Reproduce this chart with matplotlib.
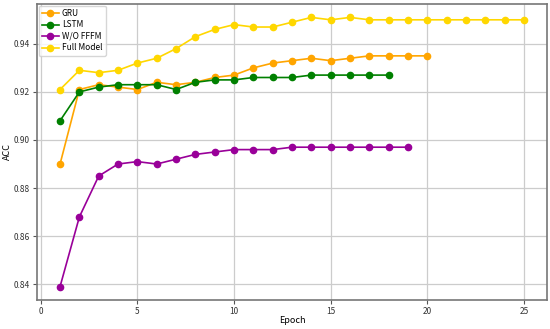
import matplotlib
matplotlib.use("Agg")
import matplotlib.pyplot as plt

plt.rcParams["font.family"] = ["Noto Sans CJK SC", "DejaVu Sans"]

gru_epochs = list(range(1, 21))
gru_acc = [0.890, 0.921, 0.923, 0.922, 0.921, 0.924, 0.923, 0.924, 0.926, 0.927,
           0.930, 0.932, 0.933, 0.934, 0.933, 0.934, 0.935, 0.935, 0.935, 0.935]
lstm_epochs = list(range(1, 19))
lstm_acc = [0.908, 0.920, 0.922, 0.923, 0.923, 0.923, 0.921, 0.924, 0.925, 0.925,
            0.926, 0.926, 0.926, 0.927, 0.927, 0.927, 0.927, 0.927]
wo_epochs = list(range(1, 20))
wo_acc = [0.839, 0.868, 0.885, 0.890, 0.891, 0.890, 0.892, 0.894, 0.895, 0.896,
          0.896, 0.896, 0.897, 0.897, 0.897, 0.897, 0.897, 0.897, 0.897]
full_epochs = list(range(1, 26))
full_acc = [0.921, 0.929, 0.928, 0.929, 0.932, 0.934, 0.938, 0.943, 0.946, 0.948,
            0.947, 0.947, 0.949, 0.951, 0.950, 0.951, 0.950, 0.950, 0.950, 0.950,
            0.950, 0.950, 0.950, 0.950, 0.950]

fig = plt.figure(figsize=(5.5, 3.29), dpi=100)
ax = fig.add_axes([0.067, 0.088, 0.928, 0.9])

ax.plot(gru_epochs, gru_acc, marker="o", ms=4.5, lw=1.2, color="#FFA500", label="GRU")
ax.plot(lstm_epochs, lstm_acc, marker="o", ms=4.5, lw=1.2, color="#008000", label="LSTM")
ax.plot(wo_epochs, wo_acc, marker="o", ms=4.5, lw=1.2, color="#990099", label="W/O FFFM")
ax.plot(full_epochs, full_acc, marker="o", ms=4.5, lw=1.2, color="#FFD700", label="Full Model")

ax.set_xticks([0, 5, 10, 15, 20, 25])
ax.set_yticks([0.84, 0.86, 0.88, 0.90, 0.92, 0.94])
ax.tick_params(labelsize=6, length=3, pad=2, color="#555555", labelcolor="#333333")
ax.grid(True, color="#cccccc", lw=0.9)
ax.set_axisbelow(True)
for s in ax.spines.values():
    s.set_color("#777777")
    s.set_linewidth(1.2)
ax.set_xlabel("Epoch", fontsize=6.5, labelpad=0)
ax.set_ylabel("ACC", fontsize=6.5, labelpad=1)
ax.legend(loc="upper left", fontsize=6, handlelength=2.0, borderpad=0.4,
          labelspacing=0.3, handletextpad=0.4, borderaxespad=0.2)

fig.savefig("out.png", dpi=100)
plt.close(fig)
